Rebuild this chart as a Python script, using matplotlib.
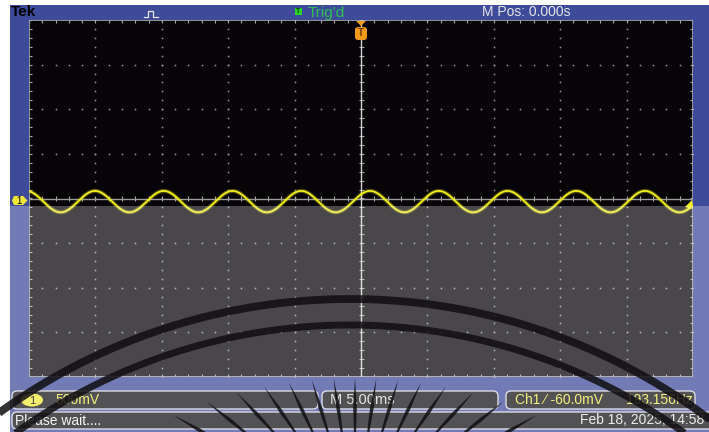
import numpy as np
import matplotlib
matplotlib.use("Agg")
import matplotlib.pyplot as plt
from matplotlib.patches import Rectangle, FancyBboxPatch, Polygon, Ellipse
from matplotlib.collections import LineCollection

# scope settings shown in the readouts
CH1_VOLTS_PER_DIV = 0.5        # 500mV
TIME_PER_DIV_MS = 5.00         # M 5.00ms
TRIG_LEVEL_MV = -60.0
FREQ_HZ = 193.156
H_DIVS = 10
V_DIVS = 8

# channel 1 trace
TRACE_AMPL_V = 0.12
TRACE_OFFSET_V = -0.035
TRACE_PEAK_MS = 0.68           # first crest right of the trigger point

# readout strings
status_text = "Trig'd"
mpos_text = "M Pos: 0.000s"
ch1_scale_text = "500mV"
time_scale_text = "M 5.00ms"
trig_text = "Ch1 \u2044 -60.0mV"
freq_text = "193.156Hz"
msg_text = "Please wait...."
date_text = "Feb 18, 2025, 14:58"

W, H = 709, 432
X0, X1, Y0, Y1 = 29, 693, 20, 377     # graticule box in pixels
FONT = ["Liberation Sans", "DejaVu Sans"]

BLUE = "#3e4b9b"
YELLOW = "#f4f01c"

fig = plt.figure(figsize=(W / 100, H / 100), dpi=100)

# ---- background layer: frame, top bar, readout boxes
bg = fig.add_axes([0, 0, 1, 1], zorder=0)
bg.set_xlim(0, W)
bg.set_ylim(H, 0)
bg.axis("off")
bg.add_patch(Rectangle((0, 0), W, H, color=BLUE, lw=0))
bg.add_patch(Rectangle((0, 0), 10, H, color="white", lw=0))
bg.add_patch(Rectangle((0, 0), W, 5, color="white", lw=0))

bg.text(11, 12, "Tek", fontsize=11, fontweight="bold", color="black",
        va="center", ha="left", family=FONT)
bg.plot([144, 148, 148, 153, 153, 158], [17, 17, 11, 11, 17, 17],
        color="#e6e6e6", lw=0.9)
bg.add_patch(Rectangle((295, 8), 7, 7, color="#2ad52a", lw=0))
bg.text(298.5, 11.7, "T", fontsize=5, color="#0a3a0a", ha="center",
        va="center", fontweight="bold", family=FONT)
bg.text(308, 12.5, status_text, fontsize=11, color="#2fbf4f", va="center",
        ha="left", family=FONT)
bg.text(482, 12, mpos_text, fontsize=10, color="#e4e4e4", va="center",
        ha="left", family=FONT)


def box(x0, x1, y0, y1):
    bg.add_patch(FancyBboxPatch((x0, y0), x1 - x0, y1 - y0,
                                boxstyle="round,pad=0,rounding_size=5",
                                facecolor="#121114", edgecolor="#d0d0dc",
                                lw=1.0))


box(12, 318, 391, 409)
box(322, 498, 391, 409)
box(506, 695, 391, 409)
box(12, 730, 412, 429)

bg.add_patch(Ellipse((32, 400), 22, 13, color="#f0e838", lw=0))
bg.text(32, 400.5, "1", fontsize=8, color="black", ha="center", va="center",
        family=FONT)
bg.text(55, 400, ch1_scale_text, fontsize=10, color="#f0ec50", va="center",
        ha="left", family=FONT)
bg.text(330, 400, time_scale_text, fontsize=10.5, color="#dcdcdc",
        va="center", ha="left", family=FONT)
bg.text(515, 400.5, trig_text, fontsize=10, color="#f0ec50", va="center",
        ha="left", family=FONT)
bg.text(626, 400.5, freq_text, fontsize=10, color="#f0ec50", va="center",
        ha="left", family=FONT)
bg.text(15, 421, msg_text, fontsize=10, color="#f2f2f2", va="center",
        ha="left", family=FONT)
bg.text(580, 420.5, date_text, fontsize=10, color="#e8e8e8", va="center",
        ha="left", family=FONT)

# ---- graticule and trace
sc = fig.add_axes([X0 / W, 1 - Y1 / H, (X1 - X0) / W, (Y1 - Y0) / H],
                  zorder=1)
sc.set_facecolor("#060407")
for s in sc.spines.values():
    s.set_visible(False)
sc.set_xticks([])
sc.set_yticks([])

t_half = H_DIVS / 2 * TIME_PER_DIV_MS
v_half = V_DIVS / 2 * CH1_VOLTS_PER_DIV
sc.set_xlim(-t_half, t_half)
sc.set_ylim(-v_half, v_half)

px_x = 2 * t_half / (X1 - X0)
px_y = 2 * v_half / (Y1 - Y0)

major_x = np.arange(-t_half, t_half + 1e-9, TIME_PER_DIV_MS)
minor_x = np.arange(-t_half, t_half + 1e-9, TIME_PER_DIV_MS / 5)
major_y = np.arange(-v_half, v_half + 1e-9, CH1_VOLTS_PER_DIV)
minor_y = np.arange(-v_half, v_half + 1e-9, CH1_VOLTS_PER_DIV / 5)

dots_x, dots_y = [], []
for mx in major_x[1:-1]:
    if abs(mx) > 1e-9:
        dots_x += [mx] * len(minor_y)
        dots_y += list(minor_y)
for my in major_y[1:-1]:
    if abs(my) > 1e-9:
        dots_x += list(minor_x)
        dots_y += [my] * len(minor_x)
sc.plot(dots_x, dots_y, ls="none", marker="s", ms=1.1, mew=0,
        color="#9a9a9a")

segs = []
for x in minor_x:
    segs.append([(x, v_half), (x, v_half - 3 * px_y)])
    segs.append([(x, -v_half), (x, -v_half + 3 * px_y)])
    segs.append([(x, -2.5 * px_y), (x, 2.5 * px_y)])
for y in minor_y:
    segs.append([(-t_half, y), (-t_half + 3 * px_x, y)])
    segs.append([(t_half, y), (t_half - 3 * px_x, y)])
    segs.append([(-2.5 * px_x, y), (2.5 * px_x, y)])
sc.add_collection(LineCollection(segs, colors="#a8a8a8", linewidths=0.8))

sc.axhline(0, color="#9c9c9c", lw=1.0)
sc.axvline(0, color="#d4d4d4", lw=1.0)
sc.add_patch(Rectangle((-t_half, -v_half), 2 * t_half, 2 * v_half,
                       fill=False, edgecolor="#b0b0b0", lw=1.2))

t_ms = np.linspace(-t_half, t_half, 3000)
v = TRACE_OFFSET_V + TRACE_AMPL_V * np.cos(
    2 * np.pi * FREQ_HZ * (t_ms - TRACE_PEAK_MS) / 1000.0)
sc.plot(t_ms, v, color=YELLOW, lw=3.0, alpha=0.3, solid_capstyle="round")
sc.plot(t_ms, v, color=YELLOW, lw=1.3)

# ---- markers, washed lower half and seal watermark
ov = fig.add_axes([0, 0, 1, 1], zorder=2)
ov.set_xlim(0, W)
ov.set_ylim(H, 0)
ov.axis("off")
ov.patch.set_alpha(0)

ov.add_patch(Polygon([(356, 21), (366, 21), (361, 26)], color="#f29a1c",
                     lw=0))
ov.add_patch(FancyBboxPatch((355, 27), 12, 13,
                            boxstyle="round,pad=0,rounding_size=3",
                            color="#f29a1c", lw=0))
ov.text(361, 33.5, "T", fontsize=7, fontweight="bold", color="#6a3a00",
        ha="center", va="center", family=FONT)

ov.add_patch(Polygon([(14, 196), (23, 196), (27.5, 200.5), (23, 205),
                      (14, 205), (12, 200.5)], color="#f0e838", lw=0))
ov.text(19, 200.8, "1", fontsize=7, color="black", ha="center",
        va="center", family=FONT)
ov.add_patch(Polygon([(685, 207), (692, 200), (692, 209)], color=YELLOW,
                     lw=0))

ov.add_patch(Rectangle((0, 206), W, H - 206, color="white", alpha=0.27,
                       lw=0))

ink = "#100e10"
cx, cy = 350, 897
theta = np.linspace(np.pi * 1.02, np.pi * 1.98, 600)
for r, lw in [(598, 5.6), (572, 5.0)]:
    ov.plot(cx + r * np.cos(theta), cy + r * np.sin(theta), color=ink,
            lw=lw, alpha=0.85, solid_capstyle="butt")

sx, sy = 355, 520
for a in np.radians(np.linspace(-60, 60, 15)):
    ux, uy = np.sin(a), -np.cos(a)
    r_out = 1 / np.sqrt((np.sin(a) / 270) ** 2 + (np.cos(a) / 142) ** 2)
    r_in = r_out - 90
    r_mid = r_out - 30
    nx, ny = -uy, ux
    pts = [(sx + ux * r_in, sy + uy * r_in),
           (sx + ux * r_mid + nx * 1.8, sy + uy * r_mid + ny * 1.8),
           (sx + ux * r_out, sy + uy * r_out),
           (sx + ux * r_mid - nx * 1.8, sy + uy * r_mid - ny * 1.8)]
    ov.add_patch(Polygon(pts, color=ink, alpha=0.85, lw=0))

fig.savefig("out.png", dpi=100)
